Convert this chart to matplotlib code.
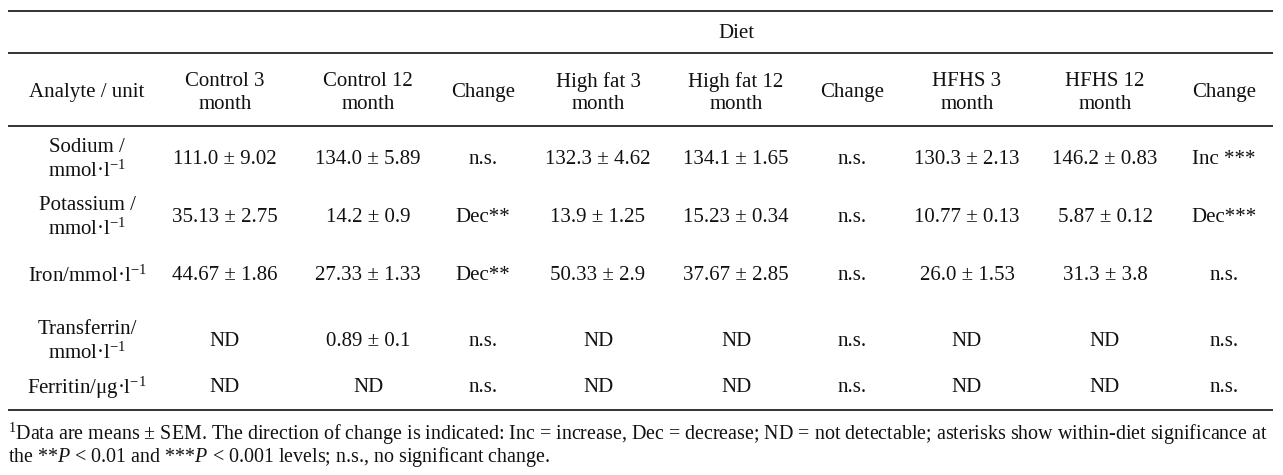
import matplotlib
matplotlib.use("Agg")
import matplotlib.pyplot as plt

plt.rcParams['font.family'] = ['Liberation Serif', 'DejaVu Serif']
plt.rcParams['mathtext.fontset'] = 'custom'
plt.rcParams['mathtext.rm'] = 'Liberation Serif'
plt.rcParams['mathtext.it'] = 'Liberation Serif:italic'
plt.rcParams['mathtext.bf'] = 'Liberation Serif:bold'

group_label = "Diet"
col_headers = ["Analyte / unit", "Control 3\nmonth", "Control 12\nmonth", "Change",
               "High fat 3\nmonth", "High fat 12\nmonth", "Change",
               "HFHS 3\nmonth", "HFHS 12\nmonth", "Change"]
analytes = ["Sodium /\nmmol·l$^{-1}$", "Potassium /\nmmol·l$^{-1}$", "Iron/mmol·l$^{-1}$",
            "Transferrin/\nmmol·l$^{-1}$", "Ferritin/μg·l$^{-1}$"]
control_3 = ["111.0 ± 9.02", "35.13 ± 2.75", "44.67 ± 1.86", "ND", "ND"]
control_12 = ["134.0 ± 5.89", "14.2 ± 0.9", "27.33 ± 1.33", "0.89 ± 0.1", "ND"]
control_change = ["n.s.", "Dec**", "Dec**", "n.s.", "n.s."]
highfat_3 = ["132.3 ± 4.62", "13.9 ± 1.25", "50.33 ± 2.9", "ND", "ND"]
highfat_12 = ["134.1 ± 1.65", "15.23 ± 0.34", "37.67 ± 2.85", "ND", "ND"]
highfat_change = ["n.s.", "n.s.", "n.s.", "n.s.", "n.s."]
hfhs_3 = ["130.3 ± 2.13", "10.77 ± 0.13", "26.0 ± 1.53", "ND", "ND"]
hfhs_12 = ["146.2 ± 0.83", "5.87 ± 0.12", "31.3 ± 3.8", "ND", "ND"]
hfhs_change = ["Inc ***", "Dec***", "n.s.", "n.s.", "n.s."]
footnote = ["$^{1}$Data are means ± SEM. The direction of change is indicated: Inc = increase, Dec = decrease; ND = not detectable; asterisks show within-diet significance at",
            "the **$P$ < 0.01 and ***$P$ < 0.001 levels; n.s., no significant change."]

W, H = 1283, 475
fig = plt.figure(figsize=(W / 100, H / 100), dpi=100)
ax = fig.add_axes([0, 0, 1, 1])
ax.set_xlim(0, W)
ax.set_ylim(H, 0)
ax.axis('off')

fs = 15
tc = '#111111'
col_x = [87, 225, 368, 483, 598, 736, 852, 967, 1105, 1224]
header_y = 93
row_y = [160, 218, 276, 342, 388]

# rules
ax.hlines([11, 53, 126, 410], 8, 1273, color='#333333', lw=1.4)

ax.text(736, 34, group_label, ha='center', va='center', fontsize=fs, color=tc)
for x, h in zip(col_x, col_headers):
    ax.text(x, header_y, h, ha='center', va='center', fontsize=fs, color=tc, linespacing=1.25)

columns = [analytes, control_3, control_12, control_change, highfat_3, highfat_12,
           highfat_change, hfhs_3, hfhs_12, hfhs_change]
for x, col in zip(col_x, columns):
    for y, s in zip(row_y, col):
        ax.text(x, y, s, ha='center', va='center', fontsize=fs, color=tc, linespacing=1.25)

ax.text(8, 434, footnote[0], ha='left', va='center', fontsize=14.4, color=tc)
ax.text(8, 457, footnote[1], ha='left', va='center', fontsize=14.4, color=tc)

fig.savefig("out.png", dpi=100, facecolor='white')
